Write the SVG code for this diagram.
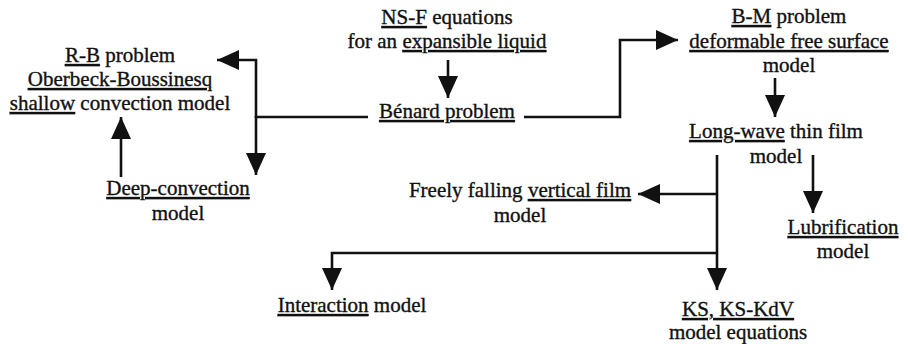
<svg xmlns="http://www.w3.org/2000/svg" width="908" height="344" viewBox="0 0 908 344">
<style>
text{font-family:'Liberation Serif','DejaVu Serif',serif;font-size:21px;fill:#111;stroke:#111;stroke-width:0.35;text-anchor:middle}
.u{text-decoration:underline}
.c{fill:none;stroke:#111;stroke-width:2.6}
</style>
<defs>
<marker id="ah" viewBox="0 0 22 20" refX="22" refY="10" markerWidth="22" markerHeight="20" markerUnits="userSpaceOnUse" orient="auto">
<path d="M0,0 L22,10 L0,20 z" fill="#111"/>
</marker>
</defs>
<rect width="908" height="344" fill="#fff"/>
<g id="connectors">
<path class="c" d="M448,60 V98" marker-end="url(#ah)"/>
<path class="c" d="M368,117 H256"/>
<path class="c" d="M256,118 V60 H217" marker-end="url(#ah)"/>
<path class="c" d="M256,116 V175" marker-end="url(#ah)"/>
<path class="c" d="M121,177 V117" marker-end="url(#ah)"/>
<path class="c" d="M524,117 H620 V40 H678" marker-end="url(#ah)"/>
<path class="c" d="M775,78 V117" marker-end="url(#ah)"/>
<path class="c" d="M813,155 V213" marker-end="url(#ah)"/>
<path class="c" d="M717,155 V290" marker-end="url(#ah)"/>
<path class="c" d="M718,194 H638" marker-end="url(#ah)"/>
<path class="c" d="M718,253 H332 V290" marker-end="url(#ah)"/>
</g>
<g font-family="Liberation Serif, serif">
<g id="nsf">
<text x="447" y="24"><tspan class="u">NS-F</tspan> equations</text>
<text x="447" y="48">for an <tspan class="u">expansible liquid</tspan></text>
</g>
<g id="benard">
<text x="447" y="118" class="u">Bénard problem</text>
</g>
<g id="rb">
<text x="120" y="62"><tspan class="u">R-B</tspan> problem</text>
<text x="120" y="86" class="u">Oberbeck-Boussinesq</text>
<text x="120" y="110"><tspan class="u">shallow</tspan> convection model</text>
</g>
<g id="deep">
<text x="178" y="195" class="u">Deep-convection</text>
<text x="178" y="220">model</text>
</g>
<g id="bm">
<text x="789" y="23"><tspan class="u">B-M</tspan> problem</text>
<text x="789" y="48" class="u">deformable free surface</text>
<text x="789" y="72">model</text>
</g>
<g id="longwave">
<text x="776" y="138"><tspan class="u">Long-wave</tspan> thin film</text>
<text x="776" y="163">model</text>
</g>
<g id="freely">
<text x="520" y="197">Freely falling <tspan class="u">vertical film</tspan></text>
<text x="520" y="222">model</text>
</g>
<g id="lubrification">
<text x="843" y="234" class="u">Lubrification</text>
<text x="843" y="258">model</text>
</g>
<g id="interaction">
<text x="352" y="312"><tspan class="u">Interaction</tspan> model</text>
</g>
<g id="ks">
<text x="738" y="316" class="u">KS, KS-KdV</text>
<text x="738" y="339">model equations</text>
</g>
</g>
</svg>
